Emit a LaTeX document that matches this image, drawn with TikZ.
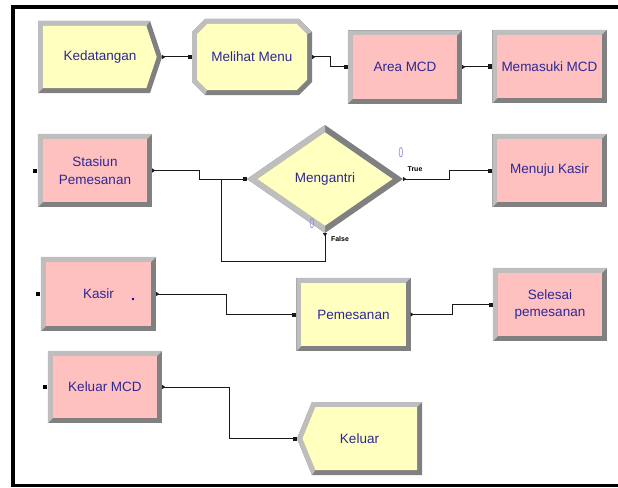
\documentclass[tikz,border=0pt]{standalone}
\usepackage{fontspec}
\setmainfont{Liberation Sans}
\usetikzlibrary{arrows.meta,calc}
\pgfdeclarelayer{background}
\pgfsetlayers{background,main}
\definecolor{pinkfill}{RGB}{255,192,192}
\definecolor{yelfill}{RGB}{255,255,192}
\definecolor{bevlight}{RGB}{190,190,190}
\definecolor{bevdark}{RGB}{128,128,128}
\definecolor{modtext}{RGB}{45,40,150}
\definecolor{zerocol}{RGB}{140,140,230}
\newcommand\bw{5}
\newcommand\rectmod[2]{%
  \fill[bevdark] (#1.north west) rectangle (#1.south east);
  \fill[bevlight] (#1.south west) -- (#1.north west) -- (#1.north east)
     -- ([shift={(-\bw,\bw)}]#1.north east) -- ([shift={(\bw,\bw)}]#1.north west)
     -- ([shift={(\bw,-\bw)}]#1.south west) -- cycle;
  \fill[#2] ([shift={(\bw,\bw)}]#1.north west) rectangle ([shift={(-\bw,-\bw)}]#1.south east);
}
\newcommand\entrysq[1]{%
  \fill[black] ([shift={(-5,-2)}]#1.west) rectangle ([shift={(-1,2)}]#1.west);
}
\tikzset{
  mod/.style={rectangle, inner sep=0pt, draw=none, text=modtext,
    font=\fontsize{13.5}{17.5}\selectfont, align=center,
    minimum width=114pt, minimum height=73pt},
  conn/.style={line width=1pt, draw=black!90,
    {Triangle[reversed,length=3pt,width=4pt]}-{Square[length=4pt,width=4pt]}},
  loopconn/.style={line width=1pt, draw=black!90,
    {Triangle[reversed,length=3pt,width=4pt]}-},
  smalllab/.style={font=\fontsize{7}{8}\selectfont\bfseries, inner sep=0pt},
  zerolab/.style={font=\fontsize{14}{14}\selectfont, text=zerocol, inner sep=0pt},
}
\begin{document}
\begin{tikzpicture}[x=1pt,y=-1pt]
\useasboundingbox (0,0) rectangle (618,487);
% frame
\fill[black] (11,5) rectangle (618,9);
\fill[black] (11,5) rectangle (15,487);
\fill[black] (11,484) rectangle (618,487);

% modules
\node[mod, minimum width=124pt, minimum height=72pt] (ked) at (100,57) {Kedatangan};
\node[mod, minimum width=120pt, minimum height=76pt] (menu) at (252,57) {Melihat Menu};
\node[mod] (area) at (405,67) {Area MCD};
\node[mod] (mem) at (549.5,66.5) {Memasuki MCD};
\node[mod] (stas) at (95,170.5) {Stasiun\\Pemesanan};
\node[mod, minimum width=156pt, minimum height=108pt] (dia) at (325,179) {Mengantri};
\node[mod] (menuju) at (549.5,170.5) {Menuju Kasir};
\node[mod, minimum width=115pt, minimum height=74pt] (kasir) at (98.5,294) {Kasir};
\node[mod] (pemes) at (353.5,314.5) {Pemesanan};
\node[mod] (selesai) at (550,304.5) {Selesai\\pemesanan};
\node[mod, minimum height=72pt] (kmcd) at (105,387) {Keluar MCD};
\node[mod, minimum width=125pt] (keluar) at (359.5,438.5) {Keluar};
\node[circle, fill=blue!80!black, inner sep=0pt, minimum size=2.6pt] (kdot) at (133,299) {};

% labels
\node[zerolab] (z1) at (401,153) {\scalebox{0.6}[1]{0}};
\node[smalllab] (tl) at (415,169) {True};
\node[zerolab] (z2) at (312,224) {\scalebox{0.6}[1]{0}};
\node[smalllab] (fl) at (340,239) {False};

\begin{pgfonlayer}{background}
  \rectmod{area}{pinkfill}
  \rectmod{mem}{pinkfill}
  \rectmod{stas}{pinkfill}
  \rectmod{menuju}{pinkfill}
  \rectmod{kasir}{pinkfill}
  \rectmod{pemes}{yelfill}
  \rectmod{selesai}{pinkfill}
  \rectmod{kmcd}{pinkfill}
  % Create (pentagon pointing right)
  \begin{scope}[shift={(ked.center)}]
    \fill[bevdark] (-62,-36) -- (50,-36) -- (62,0) -- (50,36) -- (-62,36) -- cycle;
    \fill[bevlight] (-62,36) -- (-62,-36) -- (50,-36) -- (46.4,-31) -- (-57,-31) -- (-57,31) -- cycle;
    \fill[yelfill] (-57,-31) -- (46.4,-31) -- (56.7,0) -- (46.4,31) -- (-57,31) -- cycle;
  \end{scope}
  % octagon
  \begin{scope}[shift={(menu.center)}]
    \fill[bevdark] (-47,-38) -- (47,-38) -- (60,-25) -- (60,25) -- (47,38) -- (-47,38) -- (-60,25) -- (-60,-25) -- cycle;
    \fill[bevlight] (-47,38) -- (-60,25) -- (-60,-25) -- (-47,-38) -- (47,-38) -- (60,-25)
       -- (55,-22.9) -- (44.9,-33) -- (-44.9,-33) -- (-55,-22.9) -- (-55,22.9) -- (-44.9,33) -- cycle;
    \fill[yelfill] (-44.9,-33) -- (44.9,-33) -- (55,-22.9) -- (55,22.9) -- (44.9,33) -- (-44.9,33) -- (-55,22.9) -- (-55,-22.9) -- cycle;
  \end{scope}
  % diamond
  \begin{scope}[shift={(dia.center)}]
    \fill[bevdark] (-78,0) -- (0,-54) -- (78,0) -- (0,54) -- cycle;
    \fill[bevlight] (0,-54) -- (-78,0) -- (0,54) -- (0,46.7) -- (-67.5,0) -- (0,-46.7) -- cycle;
    \fill[yelfill] (-67.5,0) -- (0,-46.7) -- (67.5,0) -- (0,46.7) -- cycle;
  \end{scope}
  % Dispose (pentagon pointing left)
  \begin{scope}[shift={(keluar.center)}]
    \fill[bevdark] (-62.5,0) -- (-47.5,-36.5) -- (62.5,-36.5) -- (62.5,36.5) -- (-47.5,36.5) -- cycle;
    \fill[bevlight] (-47.5,36.5) -- (-62.5,0) -- (-47.5,-36.5) -- (62.5,-36.5)
       -- (57.5,-31.5) -- (-44.1,-31.5) -- (-57.1,0) -- (-44.1,31.5) -- cycle;
    \fill[yelfill] (-57.1,0) -- (-44.1,-31.5) -- (57.5,-31.5) -- (57.5,31.5) -- (-44.1,31.5) -- cycle;
  \end{scope}
\end{pgfonlayer}

% dangling entry points
\entrysq{stas}
\entrysq{kasir}
\entrysq{kmcd}

% connectors
\coordinate (jn) at ([xshift=-25pt]dia.west);
\draw[conn] (ked.east) -- (menu.west);
\draw[conn] (menu.east) -- ++(18,0) |- (area.west);
\draw[conn] (area.east) -- ++(16,0) |- (mem.west);
\draw[conn] (stas.east) -- ++(47,0) |- (dia.west);
\draw[loopconn] (dia.south) -- ++(0,28) -| (jn);
\draw[conn] (dia.east) -- ++(46,0) |- (menuju.west);
\draw[conn] (kasir.east) -- ++(70,0) |- (pemes.west);
\draw[conn] (pemes.east) -- ++(42,0) |- (selesai.west);
\draw[conn] (kmcd.east) -- ++(67,0) |- (keluar.west);
\end{tikzpicture}
\end{document}
